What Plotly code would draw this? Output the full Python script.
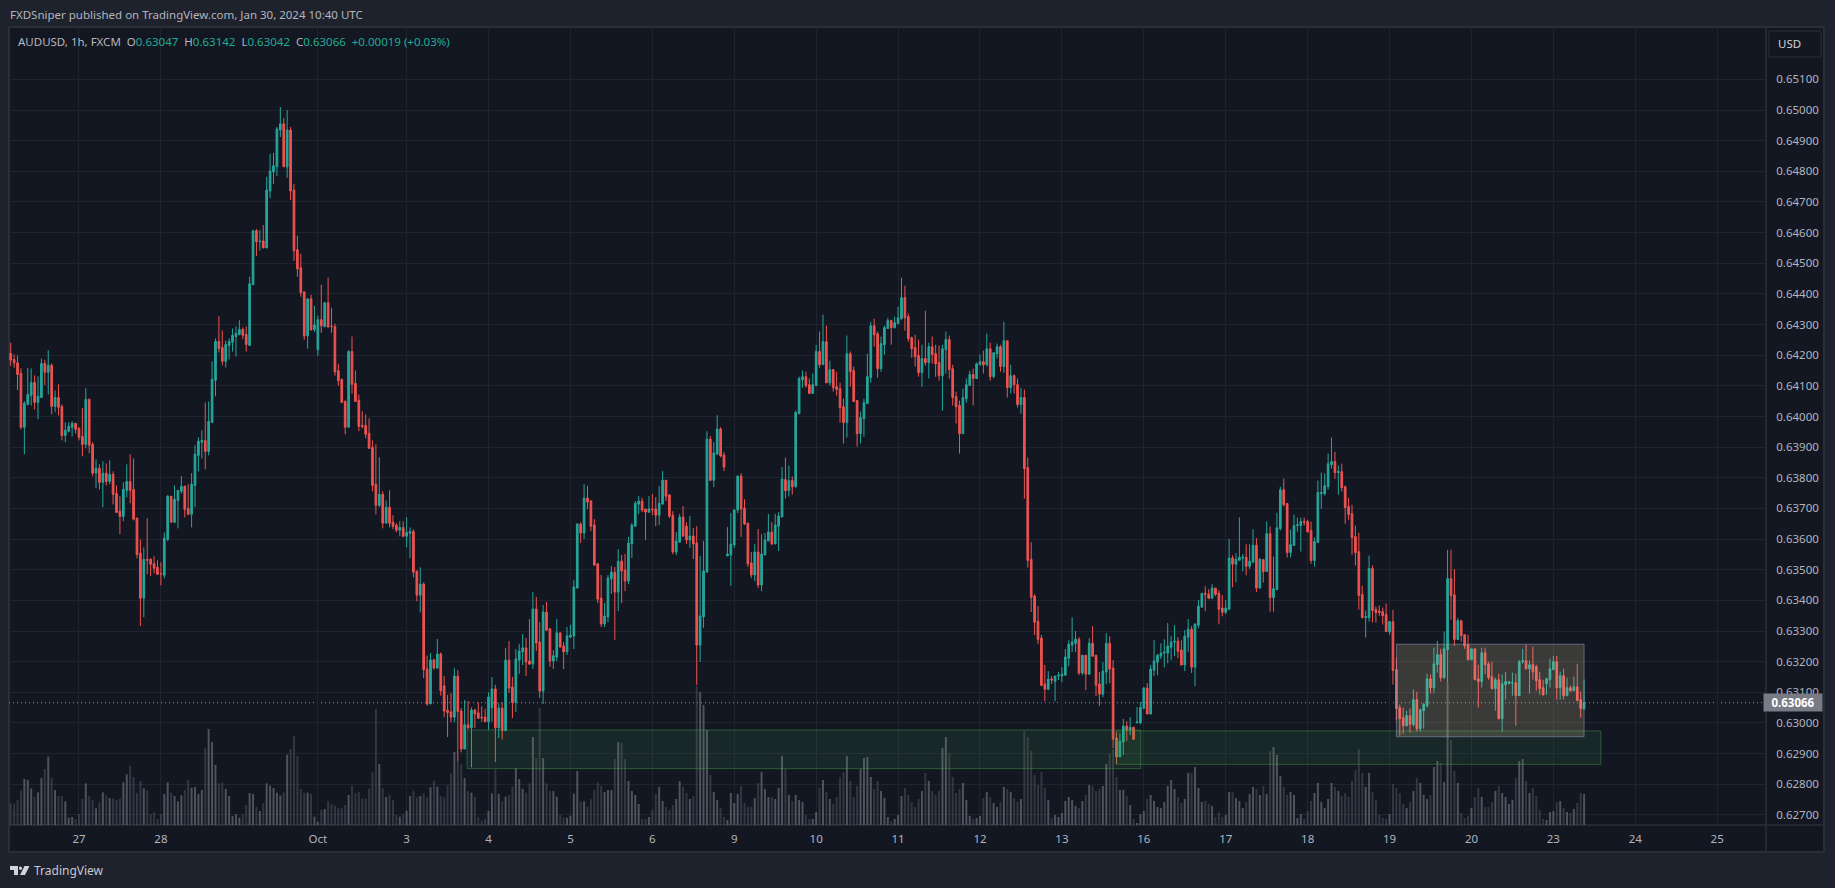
import numpy as np
import plotly.graph_objects as go

# prices are in 1e-5 units (pipettes)
opens_pts = [
    64206,64186,64175,64141,63965,64040,64069,64111,64046,64062,64173,64144,64167,64033,64062,64033,63938,63952,63965,63978,
    63961,63935,63909,64056,63909,63815,63831,63785,63815,63788,63811,63749,63691,63674,63759,63788,63762,63668,63554,63407,
    63534,63534,63520,63508,63487,63482,63599,63740,63655,63726,63756,63772,63700,63681,63775,63873,63916,63922,63886,63981,
    64118,64245,64225,64180,64232,64242,64261,64268,64284,64268,64232,64430,64606,64570,64573,64550,64736,64798,64815,64935,
    64955,64815,64935,64739,64544,64485,64407,64263,64384,64283,64218,64316,64293,64371,64295,64293,64149,64121,64049,63965,
    64212,64108,64053,63971,63971,63945,63899,63779,63710,63746,63652,63704,63655,63645,63629,63638,63609,63619,63625,63495,
    63417,63453,63176,63062,63206,63179,63225,63121,63041,63036,63019,63153,63039,62915,62994,62984,63042,63033,63019,63019,
    63004,63050,63111,62984,63049,62975,63205,63117,63067,63205,63232,63245,63202,63192,63372,63264,63104,63362,63307,63202,
    63215,63294,63251,63232,63280,63284,63440,63649,63620,63734,63724,63646,63519,63408,63323,63346,63470,63492,63427,63528,
    63499,63463,63584,63642,63714,63724,63698,63688,63698,63698,63678,63714,63792,63744,63678,63558,63590,63672,63642,63597,
    63610,63587,63254,63346,63492,63926,63792,63877,63959,63874,63545,63548,63581,63695,63806,63701,63652,63522,63483,63558,
    63450,63548,63594,63623,63584,63642,63672,63794,63758,63791,63771,64009,64120,64130,64104,64075,64101,64212,64169,64244,
    64110,64153,64097,64091,64032,63980,64205,64150,64052,63944,63993,64042,64127,64296,64270,64156,64234,64287,64313,64290,
    64303,64319,64388,64326,64257,64225,64199,64143,64189,64176,64228,64205,64176,64133,64218,64251,64156,64065,64036,63944,
    64058,64101,64137,64124,64169,64179,64169,64221,64130,64205,64228,64163,64247,64094,64133,64104,64039,64062,63833,63534,
    63414,63332,63277,63127,63110,63143,63136,63153,63153,63156,63211,63254,63260,63273,63163,63221,63159,63260,63221,63127,
    63094,63166,63260,63179,62951,62889,62938,62990,62977,62986,63000,63000,63048,63114,63029,63172,63198,63218,63228,63228,
    63247,63264,63267,63238,63189,63280,63306,63182,63319,63378,63423,63420,63407,63440,63423,63375,63361,63371,63538,63518,
    63531,63538,63541,63511,63525,63580,63440,63533,63494,63618,63409,63435,63634,63761,63716,63556,63579,63644,63644,63657,
    63657,63628,63530,63589,63748,63748,63771,63843,63853,63817,63820,63771,63706,63683,63608,63559,63419,63344,63344,63504,
    63370,63365,63363,63354,63298,63330,63174,63050,63017,62991,63024,62995,63076,62981,63040,63056,63144,63115,63190,63223,
    63148,63239,63471,63418,63272,63334,63288,63255,63206,63242,63144,63135,63229,63193,63151,63112,63141,63014,63125,63128,
    63130,63131,63089,63200,63203,63177,63190,63184,63141,63115,63128,63141,63174,63200,63115,63154,63089,63115,63105,63118,
    63076,63047,
]
highs_pts = [
    64241,64203,64199,64157,64050,64159,64157,64134,64131,64189,64185,64216,64173,64085,64105,64040,63981,63981,63984,63978,
    63965,64027,64092,64059,63916,63860,63844,63854,63847,63857,63821,63775,63740,63785,63844,63877,63863,63671,63599,63573,
    63668,63537,63544,63531,63524,63622,63743,63740,63775,63759,63805,63775,63779,63815,63906,63932,63955,64046,64049,64180,
    64255,64327,64281,64248,64255,64287,64294,64314,64291,64294,64456,64609,64612,64609,64625,64782,64857,64860,64945,65010,
    64974,65000,64945,64759,64590,64531,64407,64384,64397,64361,64329,64430,64374,64453,64355,64303,64172,64124,64053,64216,
    64261,64150,64072,64017,64007,63994,63922,63909,63867,63756,63726,63759,63678,63652,63658,63658,63671,63638,63632,63498,
    63508,63459,63220,63228,63209,63274,63230,63153,63091,63098,63179,63173,63049,63075,63072,63051,63046,63067,63054,63046,
    63100,63150,63124,63065,63067,63245,63267,63150,63241,63258,63290,63277,63339,63427,63411,63329,63385,63395,63310,63238,
    63339,63294,63264,63313,63320,63466,63652,63655,63779,63773,63727,63665,63522,63483,63391,63483,63512,63509,63567,63548,
    63551,63607,63652,63724,63740,63734,63698,63740,63747,63737,63773,63822,63792,63747,63691,63623,63682,63708,63655,63675,
    63636,63642,63545,63594,63952,63936,63916,64004,63965,63884,63639,63685,63698,63806,63815,63730,63652,63558,63584,63633,
    63616,63620,63682,63655,63682,63688,63835,63866,63840,63804,64019,64130,64150,64146,64124,64140,64234,64277,64332,64296,
    64182,64153,64146,64110,64058,64264,64212,64163,64052,64016,64058,64205,64309,64319,64277,64261,64296,64322,64316,64326,
    64358,64453,64427,64336,64261,64267,64251,64234,64345,64241,64261,64234,64231,64234,64277,64264,64169,64081,64052,64091,
    64124,64150,64156,64176,64202,64215,64270,64241,64208,64238,64234,64309,64247,64169,64137,64124,64094,64088,63866,63590,
    63420,63381,63287,63189,63169,63153,63153,63166,63182,63241,63270,63345,63300,63280,63221,63221,63277,63316,63221,63166,
    63198,63293,63283,63205,62970,62967,63013,63006,63019,62986,63052,63068,63117,63130,63189,63270,63225,63260,63273,63326,
    63283,63319,63280,63270,63303,63339,63316,63326,63401,63423,63446,63436,63453,63440,63433,63417,63401,63600,63547,63554,
    63671,63551,63583,63583,63632,63603,63538,63533,63657,63641,63543,63686,63771,63797,63716,63631,63680,63670,63670,63670,
    63663,63657,63605,63791,63817,63814,63879,63931,63885,63840,63846,63774,63735,63712,63644,63621,63448,63367,63546,63514,
    63380,63383,63377,63390,63331,63369,63213,63060,63050,63040,63047,63109,63102,63047,63066,63161,63158,63246,63268,63242,
    63298,63565,63565,63502,63343,63334,63288,63288,63242,63242,63190,63246,63246,63200,63200,63148,63161,63158,63167,63135,
    63164,63161,63206,63242,63255,63203,63249,63190,63167,63141,63148,63210,63219,63219,63167,63177,63148,63122,63151,63193,
    63102,63142,
]
lows_pts = [
    64165,64159,64086,63958,63877,64036,64036,64023,63991,64062,64102,64072,64007,64014,64004,63922,63916,63948,63935,63945,
    63922,63870,63896,63880,63805,63766,63762,63704,63775,63779,63713,63687,63616,63658,63736,63717,63661,63537,63316,63345,
    63485,63479,63488,63485,63449,63472,63593,63655,63652,63635,63749,63671,63678,63638,63704,63821,63863,63828,63873,63978,
    64066,64209,64167,64160,64186,64212,64196,64265,64252,64212,64231,64430,64524,64541,64550,64550,64713,64759,64785,64912,
    64815,64779,64707,64508,64456,64391,64250,64221,64280,64276,64198,64273,64293,64289,64273,64133,64100,64046,63942,63965,
    64075,64049,63952,63961,63929,63896,63756,63681,63704,63635,63652,63638,63632,63622,63609,63606,63573,63537,63475,63397,
    63361,63146,63056,63062,63174,63176,63089,63019,62954,63002,63002,62874,62904,62915,62980,62855,62984,63013,63004,63004,
    62978,63004,62872,62951,62946,62975,63098,63016,63036,63160,63189,63153,63189,63176,63235,63082,63062,63300,63183,63176,
    63202,63245,63176,63222,63280,63241,63440,63587,63600,63698,63626,63515,63391,63313,63313,63329,63421,63271,63365,63391,
    63430,63453,63538,63642,63682,63688,63597,63685,63678,63642,63646,63714,63724,63669,63551,63548,63590,63607,63584,63571,
    63535,63124,63199,63310,63492,63789,63770,63877,63867,63822,63545,63447,63571,63685,63607,63646,63509,63473,63463,63440,
    63430,63548,63594,63580,63584,63561,63672,63732,63739,63745,63768,64009,64094,64094,64075,64075,64101,64159,64169,64110,
    64101,64081,64068,63980,63912,63931,64097,64049,63902,63912,63934,64042,64110,64228,64127,64146,64202,64287,64234,64287,
    64303,64316,64280,64244,64192,64163,64130,64097,64166,64124,64172,64130,64117,64019,64140,64124,64036,63977,63879,63944,
    64045,64101,64036,64124,64166,64140,64163,64117,64124,64189,64146,64143,64062,64075,64075,64029,64009,63732,63507,63362,
    63287,63257,63120,63071,63107,63127,63071,63140,63133,63156,63185,63231,63231,63156,63156,63107,63159,63215,63088,63055,
    63084,63127,63130,62918,62866,62889,62895,62941,62960,62944,63000,62996,63045,63029,63029,63153,63156,63208,63182,63195,
    63205,63218,63211,63189,63169,63231,63163,63120,63309,63375,63365,63404,63407,63414,63322,63348,63355,63368,63443,63459,
    63531,63495,63482,63502,63521,63427,63440,63458,63494,63363,63363,63435,63628,63706,63540,63540,63579,63624,63559,63644,
    63621,63520,63510,63589,63699,63742,63761,63830,63797,63745,63755,63650,63663,63549,63514,63370,63341,63279,63331,63328,
    63328,63350,63321,63298,63288,63125,63008,62959,62965,62988,62968,62988,62972,62972,62981,63050,63096,63096,63164,63135,
    63144,63131,63337,63252,63272,63265,63242,63206,63206,63141,63050,63115,63158,63141,63109,63040,63011,62972,63076,63128,
    63089,62991,63089,63193,63174,63096,63141,63105,63092,63089,63092,63115,63174,63076,63076,63076,63089,63102,63105,63073,
    63017,63042,
]
closes_pts = [
    64184,64175,64137,63965,64043,64072,64111,64046,64066,64173,64144,64167,64033,64062,64030,63938,63955,63968,63978,63958,
    63932,63909,64056,63906,63815,63831,63785,63815,63788,63811,63746,63687,63674,63762,63788,63759,63665,63550,63407,63534,
    63531,63518,63505,63485,63486,63603,63740,63655,63730,63759,63772,63697,63681,63779,63877,63919,63922,63886,63984,64121,
    64245,64222,64180,64235,64245,64265,64271,64284,64265,64235,64433,64606,64570,64572,64550,64739,64801,64818,64938,64955,
    64815,64935,64736,64541,64482,64404,64263,64384,64283,64299,64316,64296,64371,64293,64294,64146,64117,64046,63965,64212,
    64105,64049,63968,63968,63942,63896,63775,63710,63746,63652,63704,63652,63642,63629,63638,63609,63622,63625,63492,63417,
    63453,63174,63062,63206,63179,63225,63105,63039,63034,63019,63153,63037,62915,62994,62984,63042,63029,63015,63017,63004,
    63085,63111,62984,63049,62975,63205,63114,63067,63209,63235,63245,63199,63192,63372,63261,63104,63362,63303,63202,63219,
    63294,63248,63232,63284,63287,63444,63649,63620,63734,63721,63642,63515,63404,63323,63349,63473,63492,63427,63528,63496,
    63463,63587,63646,63717,63724,63695,63688,63698,63696,63678,63717,63792,63740,63675,63558,63594,63672,63610,63597,63610,
    63584,63254,63349,63496,63926,63792,63881,63959,63871,63835,63551,63584,63695,63806,63698,63649,63519,63483,63558,63450,
    63551,63597,63623,63584,63646,63675,63796,63758,63791,63771,64013,64124,64130,64101,64075,64104,64212,64169,64244,64110,
    64153,64094,64088,64029,63980,64205,64146,64049,63944,63996,64045,64130,64296,64267,64156,64238,64290,64313,64290,64306,
    64322,64388,64322,64254,64221,64195,64143,64189,64176,64228,64202,64172,64133,64221,64251,64153,64062,64032,63944,64062,
    64104,64137,64124,64172,64179,64169,64221,64130,64208,64228,64163,64247,64094,64133,64104,64039,64062,63830,63530,63410,
    63329,63273,63123,63110,63143,63140,63153,63156,63159,63215,63257,63264,63273,63163,63221,63159,63260,63218,63123,63094,
    63169,63260,63176,62947,62889,62941,62990,62977,62986,62947,63003,63051,63114,63029,63176,63202,63221,63228,63231,63251,
    63264,63267,63234,63189,63283,63306,63182,63322,63381,63423,63420,63407,63440,63420,63371,63361,63375,63538,63518,63534,
    63541,63541,63511,63528,63580,63440,63534,63494,63618,63409,63438,63637,63761,63712,63556,63582,63644,63647,63657,63655,
    63624,63530,63592,63752,63752,63774,63846,63853,63817,63820,63768,63703,63680,63605,63556,63416,63344,63347,63504,63367,
    63360,63361,63350,63298,63331,63171,63047,63014,62991,63024,62995,63076,62981,63043,63060,63144,63115,63193,63223,63148,
    63242,63471,63415,63272,63334,63285,63252,63206,63242,63141,63135,63229,63190,63148,63112,63141,63014,63128,63135,63135,
    63131,63089,63200,63203,63177,63190,63167,63138,63112,63092,63144,63177,63200,63115,63154,63089,63115,63105,63118,63073,
    63047,63066,
]
# volume in arbitrary units, the chart has no volume scale
volumes = [
    65,63,75,103,138,135,110,85,98,141,168,205,141,105,87,87,71,22,24,17,33,78,125,87,75,50,68,98,89,81,79,75,79,128,152,177,144,95,132,110,
    104,33,38,18,33,93,128,97,87,71,89,105,135,112,114,93,105,232,288,249,180,125,128,108,87,27,32,22,31,60,96,93,55,42,65,125,118,111,97,89,
    98,211,228,267,207,108,96,97,93,25,10,45,48,72,63,58,52,50,60,90,118,95,99,79,79,109,158,348,183,110,84,91,75,30,25,32,43,87,102,83,
    87,95,83,113,133,115,87,83,119,155,219,191,183,141,102,97,85,23,13,19,42,95,167,93,71,85,90,115,170,138,109,97,125,264,201,351,201,125,102,102,
    85,30,22,22,28,94,162,70,71,55,77,105,128,
    117,99,105,105,198,249,246,198,132,102,90,63,18,18,24,45,93,114,72,54,45,60,78,132,114,96,78,87,417,399,360,285,150,99,75,51,24,15,96,66,
    93,117,66,54,54,81,126,159,108,84,84,78,111,207,168,90,72,90,75,69,30,18,18,39,111,135,99,78,63,84,144,159,207,132,84,117,168,201,204,144,
    108,132,102,81,24,12,18,30,87,111,90,69,54,78,102,156,132,102,90,102,231,264,216,144,96,108,126,75,27,18,21,27,81,99,84,66,54,69,114,108,
    99,81,69,78,282,264,222,150,120,159,111,75,21,30,24,36,72,84,75,57,51,72,90,120,
    117,102,108,117,183,213,228,144,105,105,87,60,18,6,33,42,78,90,72,54,51,69,117,135,108,84,66,78,156,156,174,111,69,72,63,57,24,39,24,30,
    99,99,81,72,51,69,93,114,108,90,117,93,222,234,210,147,114,90,99,90,21,33,18,42,72,96,126,69,51,78,126,114,102,87,96,84,132,165,228,156,
    114,156,99,75,30,21,18,33,123,111,96,63,51,69,102,141,126,90,78,90,174,192,186,129,426,255,162,126,36,21,27,51,84,111,84,54,54,69,102,117,
    96,84,63,75,141,192,198,132,96,111,87,45,18,15,39,42,69,72,51,39,36,48,66,96,93,
]

day_labels = ["27", "28", "Oct", "3", "4", "5", "6", "9", "10", "11", "12", "13", "16", "17", "18", "19", "20", "23", "24", "25"]
day_bars = [20, 44, 90, 116, 140, 164, 188, 212, 236, 260, 284, 308, 332, 356, 380, 404, 428, 452, 476, 500]
price_ticks = [0.627 + i * 0.001 for i in range(25)]

last_price = 0.63066
header = "FXDSniper published on TradingView.com, Jan 30, 2024 10:40 UTC"
ohlc_values = ["0.63047", "0.63142", "0.63042", "0.63066"]

# drawings on the chart: bar index from/to, price from/to
zone_one = (133.7, 331.1, 0.62851, 0.62977)
zone_two = (323.9, 465.9, 0.62865, 0.62974)
range_box = (406, 461, 0.62955, 0.63257)

UP = "#26a69a"
DOWN = "#ef5350"
TEXT = "#b2b5be"
BG = "#131722"
PAGE = "#1e222d"
BORDER = "#2a2e39"
GRID = "#20242f"
FONT = "Noto Sans"

opens = np.array(opens_pts) / 1e5
highs = np.array(highs_pts) / 1e5
lows = np.array(lows_pts) / 1e5
closes = np.array(closes_pts) / 1e5
bars = np.arange(len(closes))

vol_colors = ["rgba(120,123,134,0.6)" if c >= o else "rgba(120,123,134,0.32)"
              for o, c in zip(opens, closes)]

# plot pane in window pixels
L, R, T, B = 9, 1766, 27, 825


def px(x):
    return (x - L) / (R - L)


def py(y):
    return 1 - (y - T) / (B - T)


fig = go.Figure()
fig.add_trace(go.Bar(
    x=bars[:len(volumes)],
    y=volumes,
    marker=dict(color=vol_colors[:len(volumes)], line=dict(width=0)),
    hoverinfo="skip",
    yaxis="y",
))
fig.add_trace(go.Candlestick(
    x=bars,
    open=opens,
    high=highs,
    low=lows,
    close=closes,
    increasing=dict(line=dict(color=UP, width=1), fillcolor=UP),
    decreasing=dict(line=dict(color=DOWN, width=1), fillcolor=DOWN),
    whiskerwidth=0,
    yaxis="y2",
))


def paper_rect(x0, x1, y0, y1, **kw):
    return dict(type="rect", xref="paper", yref="paper", x0=px(x0), x1=px(x1), y0=py(y0), y1=py(y1), **kw)


def paper_path(points, **kw):
    d = "M " + " L ".join(f"{px(a):.5f} {py(b):.5f}" for a, b in points) + " Z"
    return dict(type="path", xref="paper", yref="paper", path=d, **kw)


def box(r, fill, line):
    return dict(type="rect", xref="x", yref="y2", x0=r[0], x1=r[1], y0=r[2], y1=r[3],
                fillcolor=fill, line=dict(color=line, width=1), layer="above")


logo = "#d1d4dc"
shapes = [
    # chart frame and axis separators
    paper_rect(9, 1824, 27, 852, fillcolor=BG, line=dict(color=BORDER, width=2), layer="below"),
    paper_rect(1766, 1766, 27, 852, line=dict(color=BORDER, width=1), layer="below"),
    paper_rect(9, 1824, 825, 825, line=dict(color=BORDER, width=1), layer="below"),
    # last price line
    dict(type="line", xref="paper", yref="y2", x0=0, x1=1, y0=last_price, y1=last_price,
         line=dict(color="#8a8d98", width=1, dash="1px,3px"), layer="below"),
    box(zone_one, "rgba(76,175,80,0.11)", "rgba(76,175,80,0.42)"),
    box(zone_two, "rgba(76,175,80,0.11)", "rgba(76,175,80,0.42)"),
    box(range_box, "rgba(229,213,159,0.19)", "rgba(150,150,185,0.55)"),
    # currency button
    paper_rect(1769, 1821, 31, 57, fillcolor=BG, line=dict(color=BORDER, width=1), layer="above"),
    # TradingView mark
    paper_path([(10, 866), (18, 866), (18, 875), (14, 875), (14, 870), (10, 870)], fillcolor=logo, line=dict(width=0)),
    dict(type="circle", xref="paper", yref="paper", x0=px(19), x1=px(22), y0=py(866.5), y1=py(870),
         fillcolor=logo, line=dict(width=0)),
    paper_path([(24.5, 866), (29.5, 866), (25, 875), (20, 875)], fillcolor=logo, line=dict(width=0)),
]

legend_text = (
    "AUDUSD, 1h, FXCM  "
    + "".join(f"{k}<span style='color:#22ab94'>{v}</span>  " for k, v in zip("OHLC", ohlc_values))
    + "<span style='color:#22ab94'>+0.00019 (+0.03%)</span>"
)

annotations = [
    dict(text=header, x=px(8), y=py(15), font=dict(color=TEXT, size=11.5, family=FONT)),
    dict(text=legend_text, x=px(16), y=py(41), font=dict(color=TEXT, size=11.5, family=FONT)),
    dict(text="TradingView", x=px(31.5), y=py(870), font=dict(color="#c5c8d0", size=12, family=FONT)),
    dict(text="USD", x=px(1776), y=py(44), font=dict(color="#d1d4dc", size=11.5, family=FONT)),
]
for a in annotations:
    a.update(xref="paper", yref="paper", xanchor="left", yanchor="middle", showarrow=False)
annotations.append(dict(
    text=f"<b>{last_price:.5f}</b>", x=px(1793), y=last_price, xref="paper", yref="y2",
    xanchor="center", yanchor="middle", showarrow=False, width=56, height=15,
    bgcolor="#787b86", font=dict(color="#ffffff", size=11.5, family=FONT),
))

fig.update_layout(
    width=1835,
    height=888,
    margin=dict(l=L, r=1835 - R, t=T, b=888 - B, autoexpand=False),
    paper_bgcolor=PAGE,
    plot_bgcolor=BG,
    showlegend=False,
    boxgap=0.3,
    bargap=0.42,
    hovermode=False,
    font=dict(family=FONT, color=TEXT, size=11.5),
    xaxis=dict(
        range=[-0.5, 514.3],
        rangeslider=dict(visible=False),
        tickvals=day_bars,
        ticktext=day_labels,
        tickangle=0,
        showgrid=True,
        gridcolor=GRID,
        gridwidth=1,
        zeroline=False,
        ticks="outside",
        ticklen=3,
        tickcolor="rgba(0,0,0,0)",
        tickfont=dict(color=TEXT, size=11.5, family=FONT),
    ),
    yaxis=dict(range=[0, 2394], visible=False, showgrid=False, fixedrange=True),
    yaxis2=dict(
        overlaying="y",
        side="right",
        range=[0.62667, 0.65271],
        tickvals=price_ticks,
        ticktext=[f"{v:.5f}" for v in price_ticks],
        showgrid=True,
        gridcolor=GRID,
        gridwidth=1,
        zeroline=False,
        ticks="outside",
        ticklen=7,
        tickcolor="rgba(0,0,0,0)",
        tickfont=dict(color=TEXT, size=11.5, family=FONT),
    ),
    shapes=shapes,
    annotations=annotations,
)

fig.write_html("out.html", config=dict(displayModeBar=False),
               post_script="document.body.style.margin='0';")
